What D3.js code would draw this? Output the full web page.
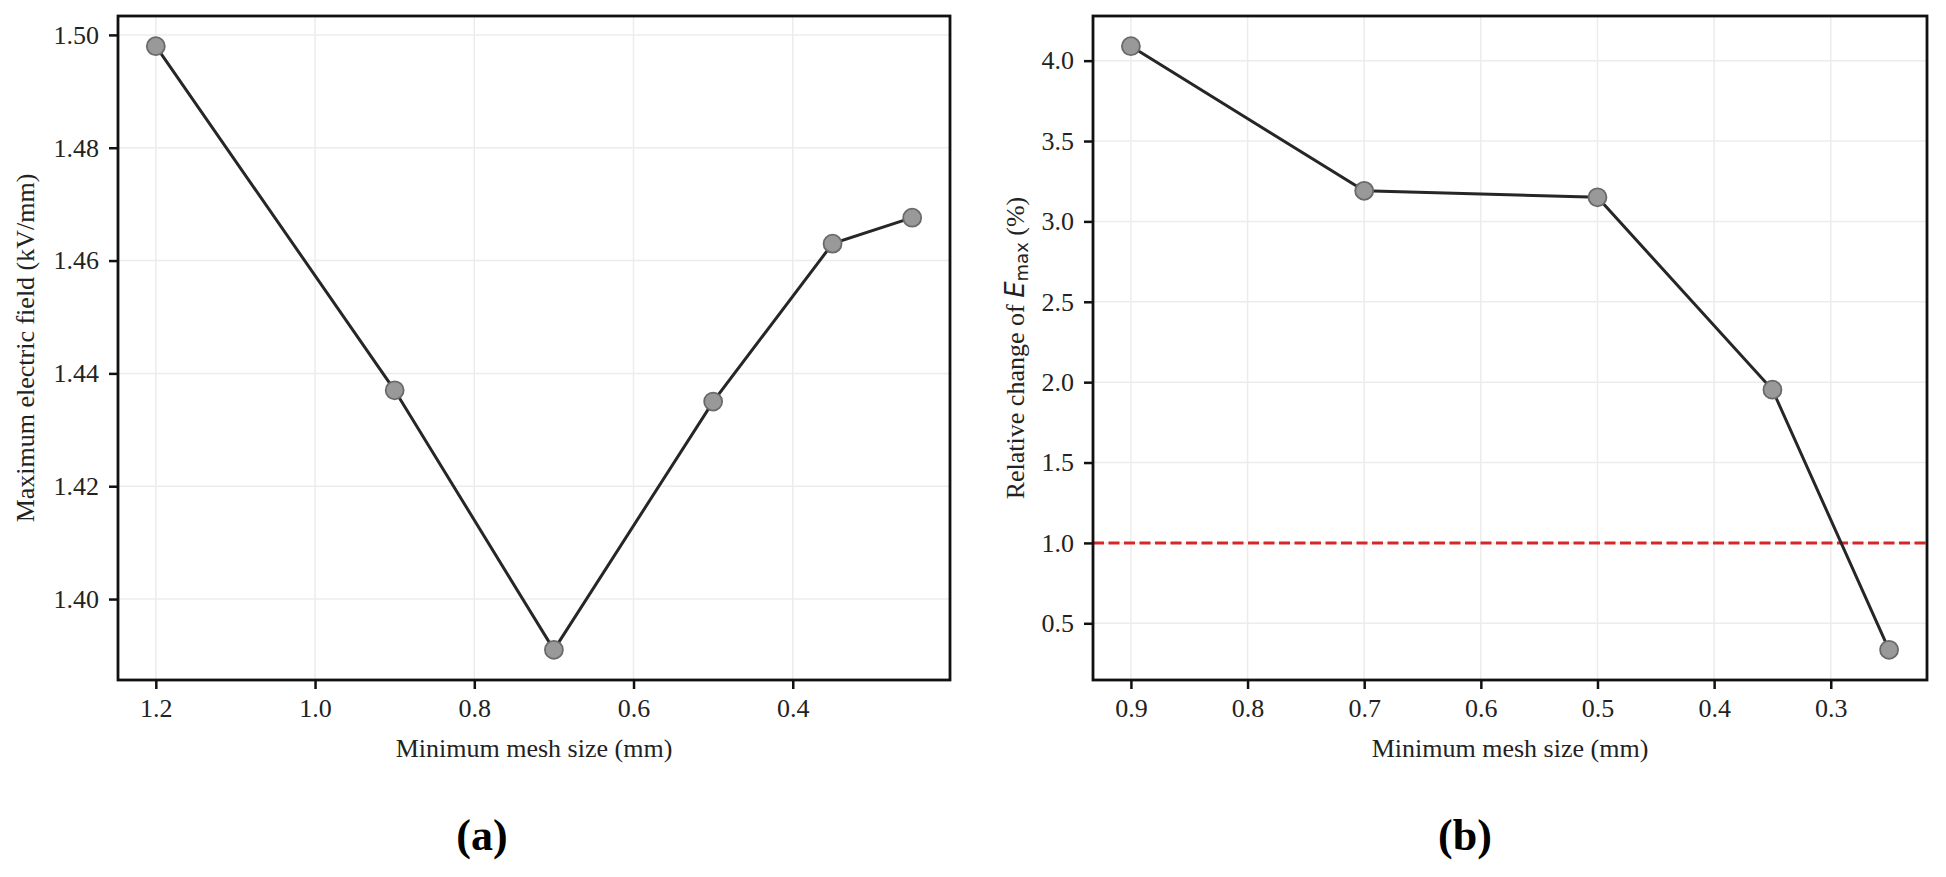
<!DOCTYPE html>
<html>
<head>
<meta charset="utf-8">
<script src="https://cdn.jsdelivr.net/npm/d3@7"></script>
<style>
  body { margin: 0; background: #fff; }
  text { font-family: "Liberation Serif", "Times New Roman", serif; fill: #222; }
</style>
</head>
<body>
<svg width="1946" height="877"></svg>
<script>
// panel (a): maximum electric field vs minimum mesh size
const meshA = [1.2, 0.9, 0.7, 0.5, 0.35, 0.25];
const emaxA = [1.498, 1.437, 1.391, 1.435, 1.463, 1.4676];
const xTicksA = [1.2, 1.0, 0.8, 0.6, 0.4];
const yTicksA = [1.40, 1.42, 1.44, 1.46, 1.48, 1.50];

// panel (b): relative change of Emax
const meshB = [0.9, 0.7, 0.5, 0.35, 0.25];
const changeB = [4.09, 3.19, 3.15, 1.953, 0.335];
const xTicksB = [0.9, 0.8, 0.7, 0.6, 0.5, 0.4, 0.3];
const yTicksB = [0.5, 1.0, 1.5, 2.0, 2.5, 3.0, 3.5, 4.0];
const thresholdB = 1.0;

const svg = d3.select('svg');

// matplotlib-like 5% margins
const padded = values => {
    const [lo, hi] = d3.extent(values);
    const pad = (hi - lo) * 0.05;
    return [lo - pad, hi + pad];
};

const drawPanel = (opts) => {
    const { left, right, top, bottom, xs, ys, xTicks, yTicks, yFormat, xFormat } = opts;

    const xDom = padded(xs);
    const x = d3.scaleLinear().domain([xDom[1], xDom[0]]).range([left, right]);
    const y = d3.scaleLinear().domain(padded(ys)).range([bottom, top]);

    const g = svg.append('g');

    // grid
    g.selectAll('.gx').data(xTicks).enter().append('line')
        .attr('x1', d => x(d)).attr('x2', d => x(d))
        .attr('y1', top).attr('y2', bottom)
        .attr('stroke', '#ececec').attr('stroke-width', 1.5);
    g.selectAll('.gy').data(yTicks).enter().append('line')
        .attr('x1', left).attr('x2', right)
        .attr('y1', d => y(d)).attr('y2', d => y(d))
        .attr('stroke', '#ececec').attr('stroke-width', 1.5);

    if (opts.threshold !== undefined) {
        g.append('line')
            .attr('x1', left).attr('x2', right)
            .attr('y1', y(opts.threshold)).attr('y2', y(opts.threshold))
            .attr('stroke', '#d62728').attr('stroke-width', 3)
            .attr('stroke-dasharray', '11,4.5');
    }

    const pts = xs.map((v, i) => [v, ys[i]]);
    g.append('path')
        .datum(pts)
        .attr('fill', 'none')
        .attr('stroke', '#262626')
        .attr('stroke-width', 3)
        .attr('d', d3.line().x(d => x(d[0])).y(d => y(d[1])));

    g.selectAll('circle').data(pts).enter().append('circle')
        .attr('cx', d => x(d[0]))
        .attr('cy', d => y(d[1]))
        .attr('r', 9)
        .attr('fill', '#999999')
        .attr('stroke', '#6a6a6a')
        .attr('stroke-width', 1.8);

    // axes
    const xAxis = g.append('g')
        .attr('transform', `translate(0,${bottom})`)
        .call(d3.axisBottom(x).tickValues(xTicks).tickFormat(xFormat)
            .tickSize(9).tickPadding(10).tickSizeOuter(0));
    const yAxis = g.append('g')
        .attr('transform', `translate(${left},0)`)
        .call(d3.axisLeft(y).tickValues(yTicks).tickFormat(yFormat)
            .tickSize(9).tickPadding(10).tickSizeOuter(0));

    [xAxis, yAxis].forEach(a => {
        a.select('.domain').remove();
        a.selectAll('line').attr('stroke', '#111').attr('stroke-width', 2.5);
        a.selectAll('text')
            .attr('fill', '#222')
            .style('font-size', '26px')
            .style('font-family', '"Liberation Serif", "Times New Roman", serif');
    });

    // frame
    g.append('rect')
        .attr('x', left).attr('y', top)
        .attr('width', right - left).attr('height', bottom - top)
        .attr('fill', 'none').attr('stroke', '#111').attr('stroke-width', 2.8);

    g.append('text')
        .attr('x', (left + right) / 2).attr('y', 757)
        .attr('text-anchor', 'middle')
        .style('font-size', '26px')
        .text('Minimum mesh size (mm)');

    g.append('text')
        .attr('x', opts.panelX).attr('y', 850)
        .attr('text-anchor', 'middle')
        .style('font-size', '44px')
        .style('font-weight', 'bold')
        .style('fill', '#000')
        .text(opts.panelLabel);

    return g;
};

const gA = drawPanel({
    left: 118, right: 950, top: 16, bottom: 680,
    xs: meshA, ys: emaxA, xTicks: xTicksA, yTicks: yTicksA,
    xFormat: d3.format('.1f'), yFormat: d3.format('.2f'),
    panelX: 482, panelLabel: '(a)'
});

gA.append('text')
    .attr('transform', 'translate(25,348) rotate(-90)')
    .attr('text-anchor', 'middle')
    .attr('dominant-baseline', 'central')
    .style('font-size', '26px')
    .text('Maximum electric field (kV/mm)');

const gB = drawPanel({
    left: 1093, right: 1927, top: 16, bottom: 680,
    xs: meshB, ys: changeB, xTicks: xTicksB, yTicks: yTicksB,
    xFormat: d3.format('.1f'), yFormat: d3.format('.1f'),
    threshold: thresholdB,
    panelX: 1465, panelLabel: '(b)'
});

const lab = gB.append('text')
    .attr('transform', 'translate(1024,348) rotate(-90)')
    .attr('text-anchor', 'middle')
    .style('font-size', '26px');
lab.append('tspan').text('Relative change of ');
lab.append('tspan')
    .style('font-family', '"DejaVu Sans", sans-serif')
    .style('font-style', 'italic')
    .text('E');
lab.append('tspan')
    .style('font-family', '"DejaVu Sans", sans-serif')
    .style('font-size', '18px')
    .attr('dy', 4)
    .text('max');
lab.append('tspan')
    .attr('dy', -4)
    .text(' (%)');
</script>
</body>
</html>
